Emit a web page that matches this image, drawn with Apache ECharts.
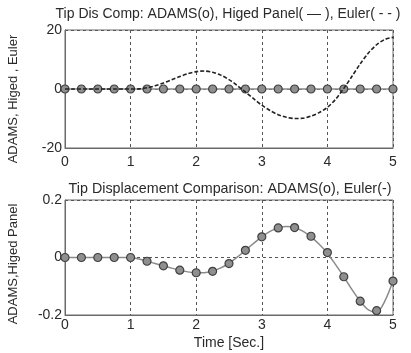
<!DOCTYPE html>
<html><head><meta charset="utf-8">
<script src="https://cdn.jsdelivr.net/npm/echarts@6/dist/echarts.min.js"></script>
<style>html,body{margin:0;padding:0;background:#fff}#c{width:411px;height:353px}</style>
</head><body><div id="c"></div>
<script>
const xTicks = [0, 1, 2, 3, 4, 5];
const tAdams = [0,0.25,0.5,0.75,1,1.25,1.5,1.75,2,2.25,2.5,2.75,3,3.25,3.5,3.75,4,4.25,4.5,4.75,5];
const tFine = [0,0.125,0.25,0.375,0.5,0.625,0.75,0.875,1,1.125,1.25,1.375,1.5,1.625,1.75,1.875,2,2.125,2.25,2.375,2.5,2.625,2.75,2.875,3,3.125,3.25,3.375,3.5,3.625,3.75,3.875,4,4.125,4.25,4.375,4.5,4.625,4.75,4.875,5];

// top panel
const adamsTop = [0,0,0,0,0,0,0,0,0,0,0,0,0,0,0,0,0,0,0,0,0];
const eulerTop = [0,0,0,0,0,0,0,0,0,0.05,0.4,1.1,2.0,3.1,4.2,5.2,5.9,6.1,5.7,4.7,3.2,1.2,-1.0,-3.3,-5.5,-7.3,-8.7,-9.6,-10.0,-9.9,-9.2,-8.0,-6.2,-3.5,0.2,4.3,8.5,12.2,15.0,16.8,17.5];

// bottom panel
const adamsBottom = [0,0,0,0,0,-0.013,-0.029,-0.044,-0.053,-0.048,-0.021,0.025,0.072,0.103,0.104,0.074,0.017,-0.067,-0.152,-0.185,-0.082];
const eulerBottom = [0,0,0,0,0,0,0,0,0,-0.005,-0.013,-0.021,-0.029,-0.037,-0.044,-0.050,-0.053,-0.053,-0.047,-0.036,-0.020,0.001,0.025,0.049,0.072,0.091,0.103,0.108,0.104,0.092,0.072,0.046,0.015,-0.025,-0.067,-0.112,-0.152,-0.182,-0.190,-0.152,-0.082];

const topTitle = 'Tip Dis Comp: ADAMS(o), Higed Panel( \u2014 ), Euler( - - )';
const bottomTitle = 'Tip Displacement Comparison: ADAMS(o), Euler(-)';
const topYName = 'ADAMS, Higed , Euler';
const bottomYName = 'ADAMS,Higed Panel';
const xName = 'Time [Sec.]';

const pair = (ts, vs) => ts.map((t, i) => [t, vs[i]]);
const font = 'Liberation Sans';
const txt = '#2a2a2a';
const frame = '#6a6a6a';
const gridDash = {show:true, lineStyle:{color:'#555', type:[3,3], width:1}};

function xAx(gi, margin){
  return {type:'value', gridIndex:gi, min:0, max:5, interval:1,
    axisLine:{show:true, onZero:false, lineStyle:{color:frame}}, axisTick:{show:false},
    axisLabel:{color:txt, fontFamily:font, fontSize:14, margin:margin},
    splitLine:gridDash};
}
function yAx(gi, min, max, iv){
  return {type:'value', gridIndex:gi, min:min, max:max, interval:iv,
    axisLine:{show:true, onZero:false, lineStyle:{color:frame}}, axisTick:{show:false},
    axisLabel:{color:txt, fontFamily:font, fontSize:14, margin:3},
    splitLine:gridDash};
}
const markerStyle = {color:'#8f8f8f', borderColor:'#404040', borderWidth:1.2};
function gtext(text, x, y, size, rot){
  return {type:'text', x:x, y:y, rotation:rot||0, z:100,
    style:{text:text, fill:txt, fontFamily:font, fontSize:size, textAlign:'center', textVerticalAlign:'middle'}};
}

const chart = echarts.init(document.getElementById('c'), null, {renderer:'canvas'});
chart.setOption({
  backgroundColor:'#fff',
  animation:false,
  graphic:[
    gtext(topTitle, 228, 14, 14, 0),
    gtext(bottomTitle, 230, 189, 14.3, 0),
    gtext(topYName, 13, 99, 13, Math.PI/2),
    gtext(bottomYName, 13, 264, 13, Math.PI/2),
    gtext(xName, 229, 343, 14, 0)
  ],
  grid:[
    {left:65, right:18, top:30, height:118, show:true, borderColor:frame, borderWidth:1, backgroundColor:'#fff'},
    {left:65, right:18, top:200, height:115, show:true, borderColor:frame, borderWidth:1, backgroundColor:'#fff'}
  ],
  xAxis:[xAx(0, 7), xAx(1, 3)],
  yAxis:[yAx(0,-20,20,20), yAx(1,-0.2,0.2,0.2)],
  series:[
    {type:'line', xAxisIndex:0, yAxisIndex:0, data:pair(tAdams, adamsTop), symbol:'circle', symbolSize:8,
      lineStyle:{color:'#8a8a8a', width:1.5}, itemStyle:markerStyle, z:3},
    {type:'line', xAxisIndex:0, yAxisIndex:0, data:pair(tFine, eulerTop), symbol:'none', smooth:0.3,
      lineStyle:{color:'#222', width:1.6, type:[4,2]}, z:4},
    {type:'line', xAxisIndex:1, yAxisIndex:1, data:pair(tFine, eulerBottom), symbol:'none', smooth:0.3,
      lineStyle:{color:'#8a8a8a', width:1.5}, z:3},
    {type:'line', xAxisIndex:1, yAxisIndex:1, data:pair(tAdams, adamsBottom), symbol:'circle', symbolSize:8,
      lineStyle:{width:0, opacity:0}, itemStyle:markerStyle, z:4}
  ]
});
</script></body></html>
